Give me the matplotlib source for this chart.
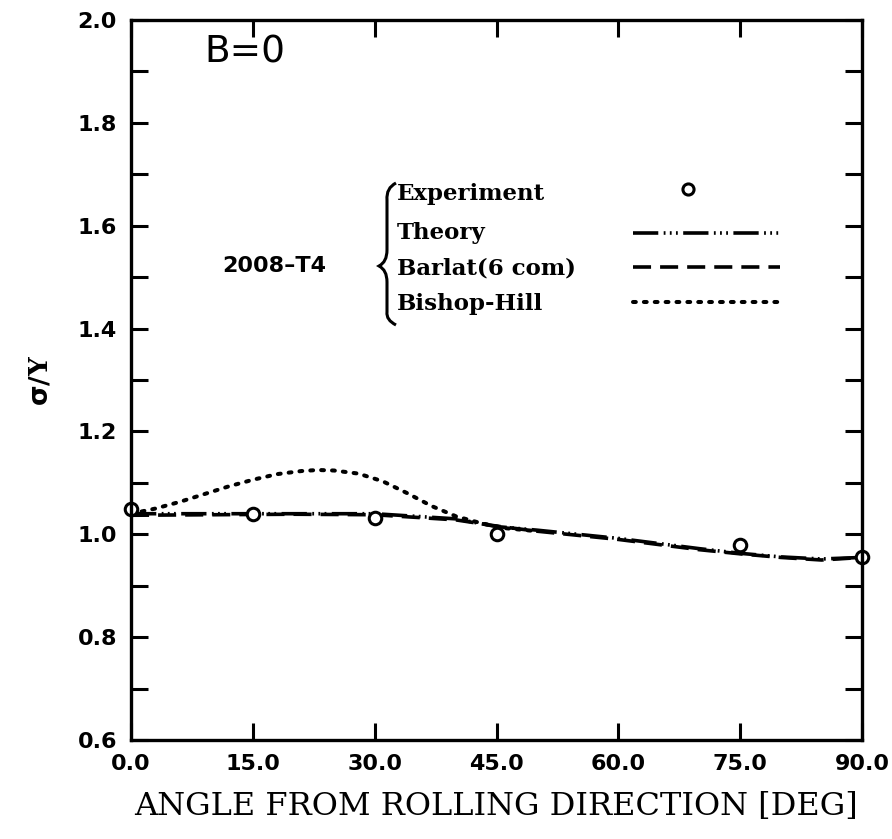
import matplotlib
matplotlib.use('Agg')
import matplotlib.pyplot as plt
from matplotlib.path import Path
from matplotlib.patches import PathPatch

# data
exp_angle = [0, 15, 30, 45, 75, 90]
exp_sig = [1.05, 1.04, 1.032, 1.0, 0.979, 0.955]

theory_angle = [0, 10, 20, 30, 40, 45, 50, 55, 60, 65, 70, 75, 80, 85, 90]
theory_sig = [1.04, 1.04, 1.04, 1.04, 1.03, 1.015, 1.008, 1.0, 0.992, 0.982, 0.972, 0.963, 0.956, 0.952, 0.955]

barlat_angle = [0, 10, 20, 30, 40, 45, 50, 55, 60, 65, 70, 75, 80, 85, 90]
barlat_sig = [1.037, 1.038, 1.039, 1.038, 1.028, 1.016, 1.006, 0.998, 0.99, 0.98, 0.97, 0.962, 0.955, 0.95, 0.955]

bh_angle = [0, 3, 6, 9, 12, 15, 18, 21, 23, 25, 28, 31, 34, 37, 40, 43, 46, 50]
bh_sig = [1.04, 1.05, 1.063, 1.078, 1.093, 1.106, 1.117, 1.123, 1.125, 1.124, 1.118, 1.103, 1.08, 1.055, 1.035, 1.022, 1.012, 1.006]

xticks = [0, 15, 30, 45, 60, 75, 90]
xticklabels = ['0.0', '15.0', '30.0', '45.0', '60.0', '75.0', '90.0']
yticks = [0.6, 0.8, 1.0, 1.2, 1.4, 1.6, 1.8, 2.0]

fig = plt.figure(figsize=(8.92, 8.39), dpi=100)
ax = fig.add_axes([131/892, 1 - 740/839, 731/892, 720/839])

lw = 2.6
theory_ls = (0, (7, 1.5, 0.5, 1.2, 0.5, 1.2, 0.5, 1.5))
barlat_ls = (0, (5, 2.5))
bh_ls = (0, (0.7, 2.0))

ax.plot(theory_angle, theory_sig, color='black', lw=lw, linestyle=theory_ls)
ax.plot(barlat_angle, barlat_sig, color='black', lw=lw, linestyle=barlat_ls)
ax.plot(bh_angle, bh_sig, color='black', lw=2.9, linestyle=bh_ls, dash_capstyle='round')
ax.plot(exp_angle, exp_sig, 'o', mfc='white', mec='black', ms=9, mew=2.2, clip_on=False)

ax.set_xlim(0, 90)
ax.set_ylim(0.6, 2.0)
ax.set_xticks(xticks)
ax.set_xticklabels(xticklabels)
ax.set_yticks(yticks)
ax.set_yticks([0.7, 0.9, 1.1, 1.3, 1.5, 1.7, 1.9], minor=True)
ax.tick_params(axis='both', which='both', direction='in', width=2.2, length=12,
               top=True, right=True, pad=10, labelsize=16)
for lab in ax.get_xticklabels() + ax.get_yticklabels():
    lab.set_fontweight('bold')
for s in ax.spines.values():
    s.set_linewidth(2.4)

ax.set_xlabel('ANGLE FROM ROLLING DIRECTION [DEG]', family='DejaVu Serif', fontsize=23, labelpad=12)
ax.set_ylabel(r'$\mathbf{\sigma}$/Y', fontsize=19, fontweight='bold', family='DejaVu Serif', labelpad=18)

ax.text(0.1, 0.955, 'B=0', transform=ax.transAxes, fontsize=27, va='center', ha='left')

# legend drawn by hand, in axes fraction
def fx(px):
    return (px - 131) / 731.0

def fy(py):
    return (740 - py) / 720.0

rows = ['Experiment', 'Theory', 'Barlat(6 com)', 'Bishop-Hill']
row_y = [194, 233, 268, 304]
for name, y in zip(rows, row_y):
    ax.text(fx(397), fy(y), name, transform=ax.transAxes, family='DejaVu Serif',
            fontsize=16.5, fontweight='bold', va='center', ha='left')
ax.text(fx(222), fy(266), '2008\u2013T4', transform=ax.transAxes, fontsize=16,
        fontweight='bold', va='center', ha='left')

ax.plot([fx(688)], [fy(189)], 'o', mfc='white', mec='black', ms=8, mew=2.2, transform=ax.transAxes)
ax.plot([fx(633), fx(780)], [fy(233), fy(233)], color='black', lw=lw, transform=ax.transAxes,
        linestyle=theory_ls)
ax.plot([fx(633), fx(780)], [fy(267), fy(267)], color='black', lw=lw, transform=ax.transAxes,
        linestyle=barlat_ls)
ax.plot([fx(633), fx(780)], [fy(302), fy(302)], color='black', lw=2.9, transform=ax.transAxes,
        linestyle=bh_ls, dash_capstyle='round')

# curly brace
verts = [(396, 183), (386, 188), (387, 200), (387, 215),
         (387, 250), (387, 262), (379, 266),
         (387, 270), (387, 282), (387, 296),
         (387, 312), (386, 320), (396, 325)]
codes = [Path.MOVETO, Path.CURVE3, Path.CURVE3, Path.LINETO,
         Path.LINETO, Path.CURVE3, Path.CURVE3,
         Path.CURVE3, Path.CURVE3, Path.LINETO,
         Path.LINETO, Path.CURVE3, Path.CURVE3]
brace = Path([(fx(a), fy(b)) for a, b in verts], codes)
ax.add_patch(PathPatch(brace, fill=False, lw=2.2, transform=ax.transAxes, clip_on=False))

fig.savefig('out.png', dpi=100)
